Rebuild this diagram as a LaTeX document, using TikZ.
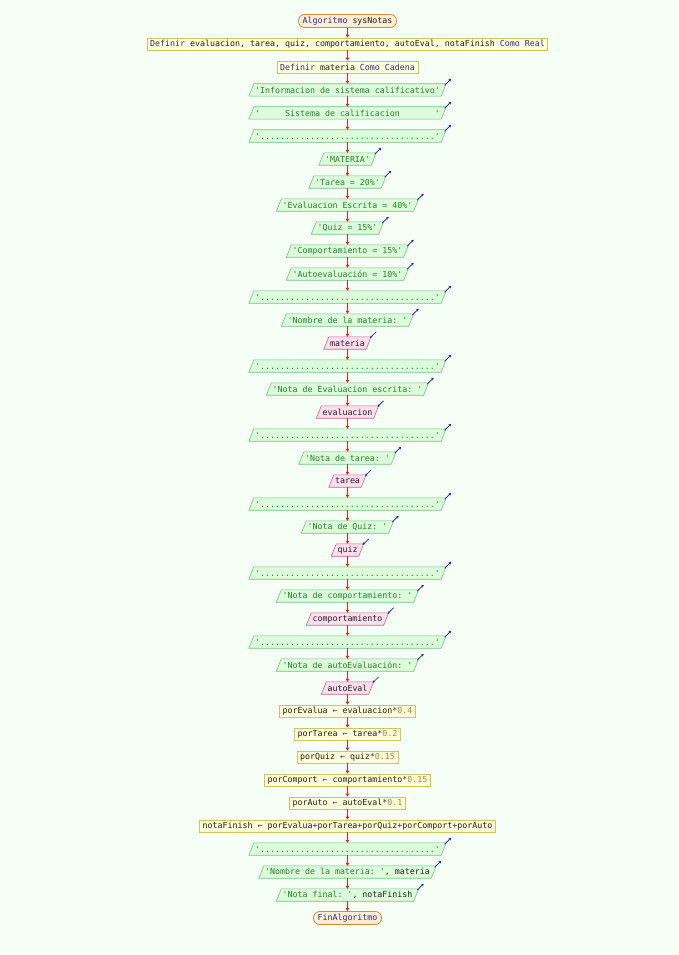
\documentclass[tikz,border=0pt]{standalone}
\usepackage{fontspec}
\setmonofont{DejaVu Sans Mono}
\usetikzlibrary{arrows.meta}
\pgfdeclarelayer{background}
\pgfsetlayers{background,main}
\definecolor{bg}{RGB}{245,255,245}
\definecolor{kw}{RGB}{40,40,150}
\definecolor{vartext}{RGB}{30,30,30}
\definecolor{numc}{RGB}{200,120,60}
\definecolor{strc}{RGB}{40,130,40}
\definecolor{termline}{RGB}{210,140,60}
\definecolor{termfill}{RGB}{255,238,210}
\definecolor{procline}{RGB}{205,200,90}
\definecolor{procfill}{RGB}{255,255,218}
\definecolor{outline}{RGB}{110,200,120}
\definecolor{outfill}{RGB}{220,252,220}
\definecolor{inline}{RGB}{200,100,140}
\definecolor{infill}{RGB}{255,222,238}
\definecolor{flowc}{RGB}{225,35,35}
\definecolor{tagc}{RGB}{30,30,160}
\newcommand{\kwd}[1]{\textcolor{kw}{#1}}
\newcommand{\opr}[1]{\textcolor{kw}{#1}}
\newcommand{\numv}[1]{\textcolor{numc}{#1}}
\newcommand{\strv}[1]{\textcolor{strc}{#1}}
\newcommand{\dotline}{'...................................'}
\begin{document}
\begin{tikzpicture}[x=1pt,y=-1pt,
  every node/.style={font=\ttfamily\fontsize{8.3}{10}\selectfont, text=vartext},
  term/.style={draw=termline, fill=termfill, rounded corners=6pt, minimum height=13pt, inner xsep=4pt, inner ysep=0pt, line width=0.8pt},
  proc/.style={draw=procline, fill=procfill, minimum height=12pt, inner xsep=3pt, inner ysep=0pt, line width=0.8pt},
  outp/.style={minimum height=12pt, inner xsep=3pt, inner ysep=0pt, text=strc},
  inp/.style={minimum height=12pt, inner xsep=3pt, inner ysep=0pt},
  outshape/.style={draw=outline, fill=outfill, line width=0.6pt},
  inshape/.style={draw=inline, fill=infill, line width=0.6pt},
  flow/.style={draw=flowc, line width=0.7pt, -{Triangle[length=3pt,width=3.5pt]}},
  tag/.style={draw=tagc, line width=0.7pt, -{Stealth[length=2.6pt,width=2.6pt]}}
]
\begin{pgfonlayer}{background}
\fill[bg] (0,0) rectangle (679,955);
\end{pgfonlayer}
\useasboundingbox (0,0) rectangle (679,955);
\def\cx{347.5}
\node[term] (n1) at (\cx,21) {\kwd{Algoritmo} sysNotas};
\node[proc] (n2) at (\cx,44) {\kwd{Definir} evaluacion, tarea, quiz, comportamiento, autoEval, notaFinish \kwd{Como Real}};
\node[proc] (n3) at (\cx,67) {\kwd{Definir} materia \kwd{Como Cadena}};
\node[outp] (n4) at (\cx,90) {'Informacion de sistema calificativo'};
\node[outp] (n5) at (\cx,113) {'~~~~~Sistema de calificacion~~~~~~~'};
\node[outp] (n6) at (\cx,136) {\dotline};
\node[outp] (n7) at (\cx,159) {'MATERIA'};
\node[outp] (n8) at (\cx,182) {'Tarea = 20\%'};
\node[outp] (n9) at (\cx,205) {'Evaluacion Escrita = 40\%'};
\node[outp] (n10) at (\cx,228) {'Quiz = 15\%'};
\node[outp] (n11) at (\cx,251) {'Comportamiento = 15\%'};
\node[outp] (n12) at (\cx,274) {'Autoevaluación = 10\%'};
\node[outp] (n13) at (\cx,297) {\dotline};
\node[outp] (n14) at (\cx,320) {'Nombre de la materia: '};
\node[inp] (n15) at (\cx,343) {materia};
\node[outp] (n16) at (\cx,366) {\dotline};
\node[outp] (n17) at (\cx,389) {'Nota de Evaluacion escrita: '};
\node[inp] (n18) at (\cx,412) {evaluacion};
\node[outp] (n19) at (\cx,435) {\dotline};
\node[outp] (n20) at (\cx,458) {'Nota de tarea: '};
\node[inp] (n21) at (\cx,481) {tarea};
\node[outp] (n22) at (\cx,504) {\dotline};
\node[outp] (n23) at (\cx,527) {'Nota de Quiz: '};
\node[inp] (n24) at (\cx,550) {quiz};
\node[outp] (n25) at (\cx,573) {\dotline};
\node[outp] (n26) at (\cx,596) {'Nota de comportamiento: '};
\node[inp] (n27) at (\cx,619) {comportamiento};
\node[outp] (n28) at (\cx,642) {\dotline};
\node[outp] (n29) at (\cx,665) {'Nota de autoEvaluación: '};
\node[inp] (n30) at (\cx,688) {autoEval};
\node[proc] (n31) at (\cx,711) {porEvalua \opr{←} evaluacion\opr{*}\numv{0.4}};
\node[proc] (n32) at (\cx,734) {porTarea \opr{←} tarea\opr{*}\numv{0.2}};
\node[proc] (n33) at (\cx,757) {porQuiz \opr{←} quiz\opr{*}\numv{0.15}};
\node[proc] (n34) at (\cx,780) {porComport \opr{←} comportamiento\opr{*}\numv{0.15}};
\node[proc] (n35) at (\cx,803) {porAuto \opr{←} autoEval\opr{*}\numv{0.1}};
\node[proc] (n36) at (\cx,826) {notaFinish \opr{←} porEvalua\opr{+}porTarea\opr{+}porQuiz\opr{+}porComport\opr{+}porAuto};
\node[outp] (n37) at (\cx,849) {\dotline};
\node[outp, text=vartext] (n38) at (\cx,872) {\strv{'Nombre de la materia: '}, materia};
\node[outp, text=vartext] (n39) at (\cx,895) {\strv{'Nota final: '}, notaFinish};
\node[term] (n40) at (\cx,918) {\kwd{FinAlgoritmo}};
\begin{pgfonlayer}{background}
\foreach \k in {4,5,6,7,8,9,10,11,12,13,14,16,17,19,20,22,23,25,26,28,29,37,38,39}
  \filldraw[outshape] ([xshift=-3pt]n\k.south west) -- ([xshift=2pt]n\k.north west)
     -- ([xshift=3pt]n\k.north east) -- ([xshift=-2pt]n\k.south east) -- cycle;
\foreach \k in {15,18,21,24,27,30}
  \filldraw[inshape] ([xshift=-3pt]n\k.south west) -- ([xshift=2pt]n\k.north west)
     -- ([xshift=3pt]n\k.north east) -- ([xshift=-2pt]n\k.south east) -- cycle;
\end{pgfonlayer}
\foreach \i [evaluate=\i as \j using int(\i+1)] in {1,...,39}
  \draw[flow] (n\i.south) -- (n\j.north);
\foreach \k in {4,5,6,7,8,9,10,11,12,13,14,16,17,19,20,22,23,25,26,28,29,37,38,39}
  \draw[tag] ([xshift=3pt]n\k.north east) ++(-1.5,1.5) -- ++(6.5,-6.5);
\foreach \k in {15,18,21,24,27,30}
  \draw[tag] ([xshift=3pt]n\k.north east) ++(5,-5) -- ++(-6,6);
\end{tikzpicture}
\end{document}
